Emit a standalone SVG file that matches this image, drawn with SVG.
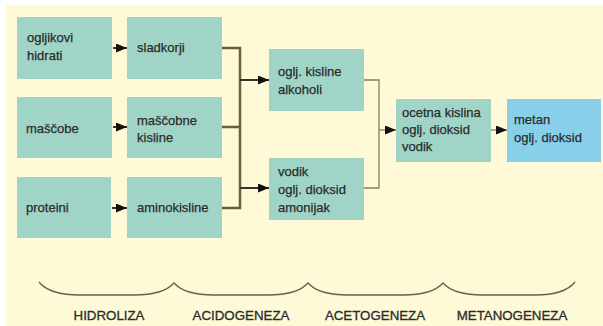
<svg xmlns="http://www.w3.org/2000/svg" width="603" height="326" viewBox="0 0 603 326">
  <defs>
    <marker id="ah" markerUnits="userSpaceOnUse" markerWidth="11" markerHeight="9" refX="11" refY="4.5" orient="auto">
      <path d="M0,0 L11,4.5 L0,9 Z" fill="#111"/>
    </marker>
    <style>
      .box { fill: #9fd4c6; }
      .blue { fill: #88cfe9; }
      .t { font-family: "Liberation Sans", Arial, sans-serif; font-size: 13px; fill: #2b2b2b; stroke: #2b2b2b; stroke-width: 0.25; }
      .lab { font-family: "Liberation Sans", Arial, sans-serif; font-size: 13.3px; fill: #2b2b2b; stroke: #2b2b2b; stroke-width: 0.3; text-anchor: middle; }
      .arr { stroke: #3d3226; stroke-width: 2; fill: none; }
      .brk { stroke: #6f5b3d; stroke-width: 2.5; fill: none; }
      .brk2 { stroke: #8c7c60; stroke-width: 1.3; fill: none; }
      .brace { stroke: #6b6048; stroke-width: 1.3; fill: none; }
    </style>
  </defs>
  <rect x="0" y="0" width="603" height="326" fill="#ffffff"/>
  <rect x="6" y="5" width="597" height="321" fill="#fef9d6"/>

  <g id="n-ogljikovi-hidrati">
    <rect class="box" x="17" y="17" width="95" height="62"/>
    <text class="t" x="27" y="42">ogljikovi</text>
    <text class="t" x="27" y="60">hidrati</text>
  </g>
  <g id="n-sladkorji">
    <rect class="box" x="127" y="17" width="95" height="62"/>
    <text class="t" x="137" y="52">sladkorji</text>
  </g>
  <g id="n-mascobe">
    <rect class="box" x="17" y="97" width="95" height="61"/>
    <text class="t" x="26" y="133">maščobe</text>
  </g>
  <g id="n-mascobne-kisline">
    <rect class="box" x="127" y="97" width="95" height="61"/>
    <text class="t" x="137" y="125">maščobne</text>
    <text class="t" x="137" y="142">kisline</text>
  </g>
  <g id="n-proteini">
    <rect class="box" x="17" y="177" width="94" height="61"/>
    <text class="t" x="26" y="212">proteini</text>
  </g>
  <g id="n-aminokisline">
    <rect class="box" x="127" y="177" width="95" height="61"/>
    <text class="t" x="137" y="212">aminokisline</text>
  </g>
  <g id="n-kisline-alkoholi">
    <rect class="box" x="269" y="49" width="95" height="62"/>
    <text class="t" x="278" y="76">oglj. kisline</text>
    <text class="t" x="278" y="94">alkoholi</text>
  </g>
  <g id="n-vodik-dioksid-amonijak">
    <rect class="box" x="269" y="158" width="95" height="62"/>
    <text class="t" x="278" y="176">vodik</text>
    <text class="t" x="278" y="194">oglj. dioksid</text>
    <text class="t" x="278" y="212">amonijak</text>
  </g>
  <g id="n-ocetna-kislina">
    <rect class="box" x="396" y="99" width="95" height="63"/>
    <text class="t" x="402" y="117">ocetna kislina</text>
    <text class="t" x="402" y="134">oglj. dioksid</text>
    <text class="t" x="402" y="151">vodik</text>
  </g>
  <g id="n-metan">
    <rect class="blue" x="507" y="99" width="94" height="63"/>
    <text class="t" x="514" y="124">metan</text>
    <text class="t" x="514" y="142">oglj. dioksid</text>
  </g>

  <g id="connectors">
    <line class="arr" x1="113" y1="48" x2="127" y2="48" marker-end="url(#ah)"/>
    <line class="arr" x1="113" y1="127" x2="127" y2="127" marker-end="url(#ah)"/>
    <line class="arr" x1="112" y1="208" x2="127" y2="208" marker-end="url(#ah)"/>
    <path class="brk" d="M222,48 H240 M222,127 H240 M222,208 H240 M240,46.8 V209.2"/>
    <line class="arr" x1="240" y1="80" x2="269" y2="80" stroke-width="1.5" marker-end="url(#ah)"/>
    <line class="arr" x1="240" y1="188" x2="269" y2="188" stroke-width="1.5" marker-end="url(#ah)"/>
    <path class="brk2" d="M364,80 H379 V188 H364"/>
    <line class="brk2" x1="379" y1="130" x2="396" y2="130" marker-end="url(#ah)"/>
    <line class="brk2" x1="491" y1="130" x2="507" y2="130" marker-end="url(#ah)"/>
  </g>

  <g id="braces">
    <path class="brace" d="M39,282 C47,292 65,295 80,295 L134,295 C149,295 166,292 174,283 C182,292 199,295 214,295 L268,295 C283,295 300,292 308,283 C316,292 333,295 348,295 L403,295 C418,295 435,292 443,283 C451,292 468,295 483,295 L535,295 C550,295 567,292 575,282"/>
  </g>

  <g id="labels">
    <text class="lab" x="109" y="320">HIDROLIZA</text>
    <text class="lab" x="241" y="320">ACIDOGENEZA</text>
    <text class="lab" x="375" y="320">ACETOGENEZA</text>
    <text class="lab" x="512" y="320">METANOGENEZA</text>
  </g>
</svg>
